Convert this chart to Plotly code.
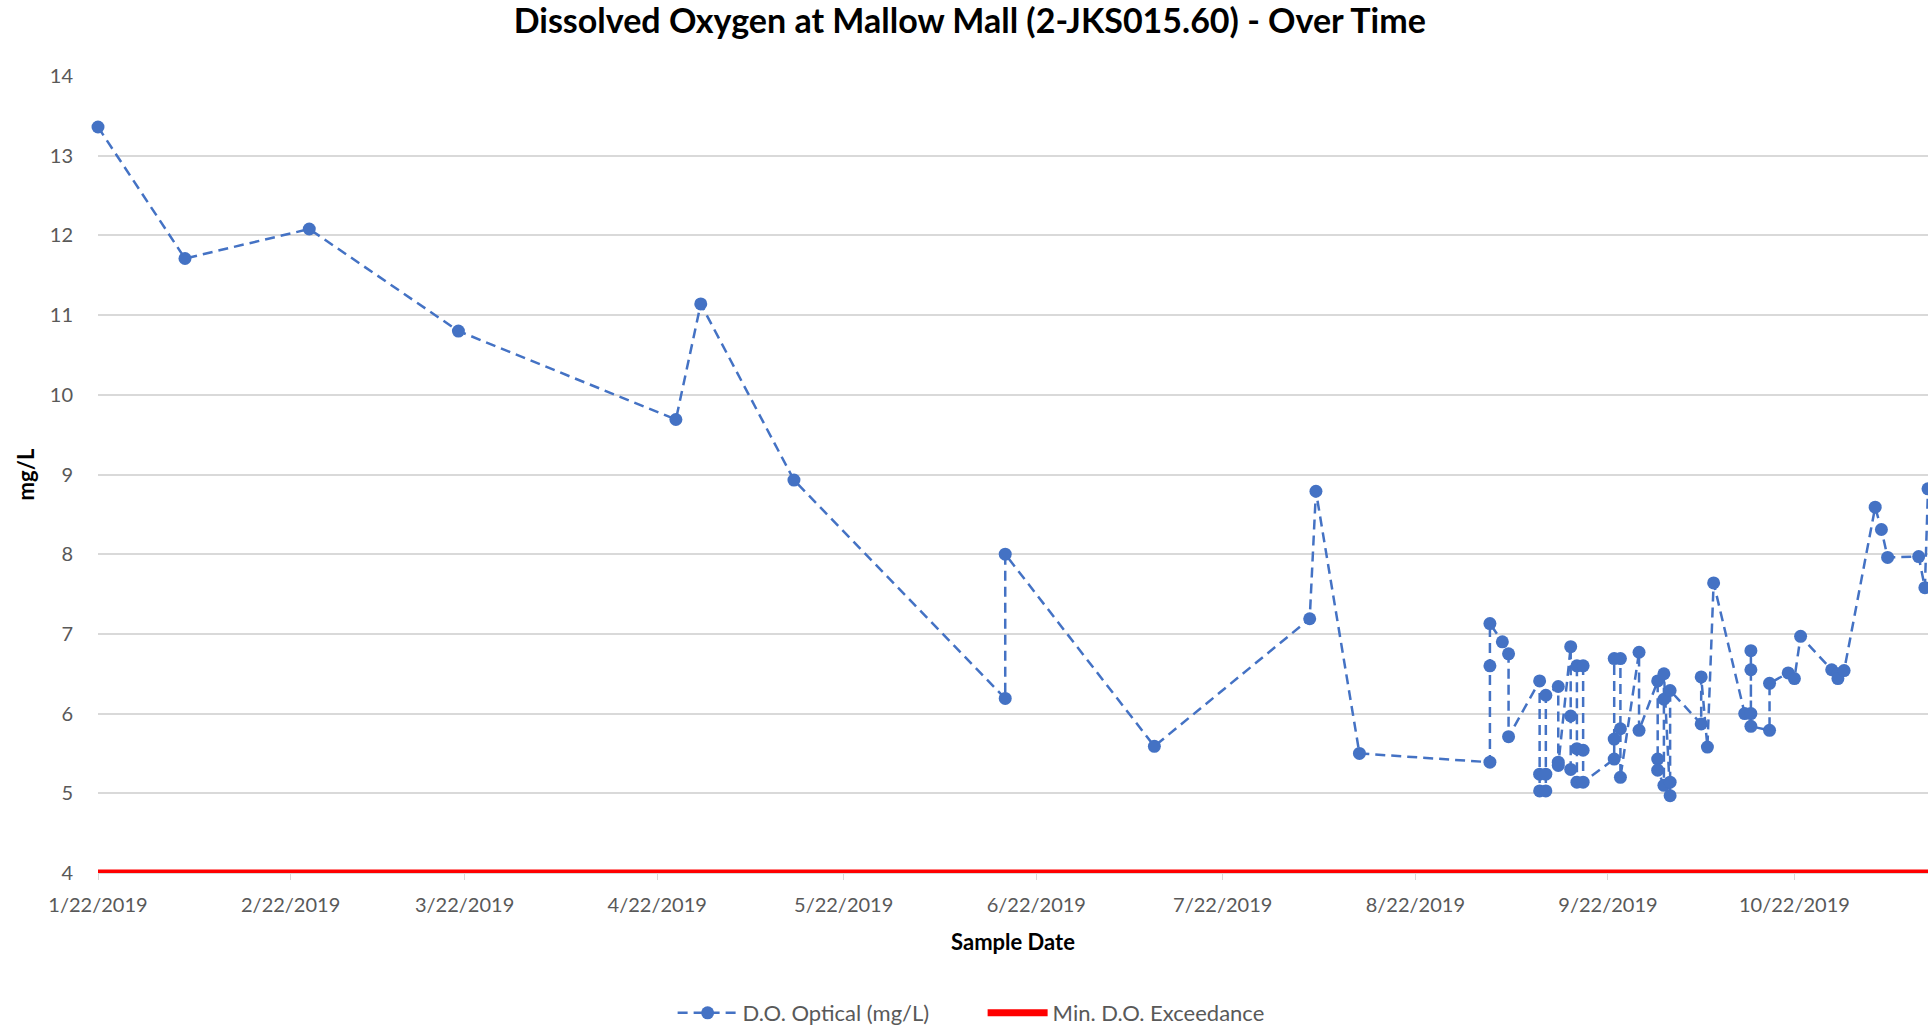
import plotly.graph_objects as go

# D.O. Optical readings (mg/L), in sample order
sample_dates = [
    "2019-01-22", "2019-02-05", "2019-02-25", "2019-03-21", "2019-04-25",
    "2019-04-29", "2019-05-14", "2019-06-17", "2019-06-17", "2019-07-11",
    "2019-08-05", "2019-08-06", "2019-08-13",
    "2019-09-03", "2019-09-03", "2019-09-03", "2019-09-05", "2019-09-06", "2019-09-06",
    "2019-09-11", "2019-09-11", "2019-09-11", "2019-09-12", "2019-09-12", "2019-09-12",
    "2019-09-14", "2019-09-14", "2019-09-14",
    "2019-09-16", "2019-09-16", "2019-09-16",
    "2019-09-17", "2019-09-17", "2019-09-17",
    "2019-09-18", "2019-09-18", "2019-09-18",
    "2019-09-23", "2019-09-23", "2019-09-23",
    "2019-09-24", "2019-09-24", "2019-09-24",
    "2019-09-27", "2019-09-27",
    "2019-09-30", "2019-09-30", "2019-09-30",
    "2019-10-01", "2019-10-01", "2019-10-01",
    "2019-10-02", "2019-10-02", "2019-10-02",
    "2019-10-07", "2019-10-07", "2019-10-08", "2019-10-09",
    "2019-10-14", "2019-10-15", "2019-10-15", "2019-10-15", "2019-10-15",
    "2019-10-18", "2019-10-18", "2019-10-21", "2019-10-22", "2019-10-23",
    "2019-10-28", "2019-10-29", "2019-10-29", "2019-10-30",
    "2019-11-04", "2019-11-05", "2019-11-06", "2019-11-11", "2019-11-12",
    "2019-11-12 12:00",
]
do_optical = [
    13.36, 11.71, 12.08, 10.80, 9.69,
    11.14, 8.93, 6.19, 8.00, 5.59,
    7.19, 8.79, 5.50,
    5.39, 6.60, 7.13, 6.90, 6.75, 5.71,
    6.41, 5.24, 5.03, 5.03, 5.24, 6.23,
    6.34, 5.39, 5.35,
    6.84, 5.97, 5.30,
    5.14, 5.56, 6.60,
    6.60, 5.54, 5.14,
    5.43, 5.68, 6.69,
    6.69, 5.81, 5.20,
    6.77, 5.79,
    6.41, 5.43, 5.29,
    5.10, 6.18, 6.50,
    4.97, 5.14, 6.29,
    5.87, 6.46, 5.58, 7.64,
    6.00, 6.00, 6.79, 6.55, 5.84,
    5.79, 6.38, 6.51, 6.44, 6.97,
    6.55, 6.50, 6.44, 6.54,
    8.59, 8.31, 7.96, 7.97, 7.58,
    8.82,
]

# minimum D.O. standard
min_do_dates = ["2019-01-22", "2019-11-12 12:00"]
min_do = [4, 4]

tick_dates = ["2019-01-22", "2019-02-22", "2019-03-22", "2019-04-22", "2019-05-22",
              "2019-06-22", "2019-07-22", "2019-08-22", "2019-09-22", "2019-10-22"]
tick_labels = ["1/22/2019", "2/22/2019", "3/22/2019", "4/22/2019", "5/22/2019",
               "6/22/2019", "7/22/2019", "8/22/2019", "9/22/2019", "10/22/2019"]

BLUE = "#4472C4"
GREY = "#595959"
FONT = "Lato"

fig = go.Figure()
fig.add_trace(go.Scatter(
    x=min_do_dates, y=min_do, mode="lines", name="Min. D.O. Exceedance",
    line=dict(color="#FF0000", width=7),
))
fig.add_trace(go.Scatter(
    x=sample_dates, y=do_optical, mode="lines+markers", name="D.O. Optical (mg/L)",
    line=dict(color=BLUE, width=2.5, dash="10px,6px"),
    marker=dict(color=BLUE, size=13),
    cliponaxis=False,
))

fig.update_layout(
    width=1928, height=1027,
    paper_bgcolor="white", plot_bgcolor="white",
    margin=dict(l=98, r=0, t=76, b=154),
    font=dict(family=FONT, color=GREY, size=20),
    title=dict(
        text="<b>Dissolved Oxygen at Mallow Mall (2-JKS015.60) - Over Time</b>",
        x=0.503, xanchor="center", y=0.979, yanchor="middle",
        font=dict(family=FONT, size=34, color="black"),
    ),
    showlegend=True,
    legend=dict(
        orientation="h", x=0.314, xanchor="left",
        yref="container", y=0.0136, yanchor="middle",
        traceorder="reversed", font=dict(size=22, color=GREY),
        entrywidth=235, itemwidth=60,
    ),
)
fig.update_xaxes(
    type="date",
    range=["2019-01-22", "2019-11-12 12:00"],
    tickvals=tick_dates, ticktext=tick_labels,
    ticks="outside", ticklen=6, tickcolor="#d9d9d9",
    ticklabelstandoff=8,
    tickfont=dict(size=20, color=GREY),
    showgrid=False, showline=True, linecolor="#d9d9d9", zeroline=False,
    title=dict(text="<b>Sample Date</b>", font=dict(size=22, color="black"), standoff=19),
)
fig.update_yaxes(
    range=[4, 14], dtick=1,
    showgrid=True, gridcolor="#d9d9d9", gridwidth=1.5,
    zeroline=False, showline=False,
    ticklabelstandoff=24,
    tickfont=dict(size=20, color=GREY),
    title=dict(text="<b>mg/L</b>", font=dict(size=22, color="black"), standoff=9),
)

fig.write_html(
    "out.html",
    config={"displayModeBar": False},
    post_script="document.body.style.margin='0';document.body.style.overflow='hidden';",
)
